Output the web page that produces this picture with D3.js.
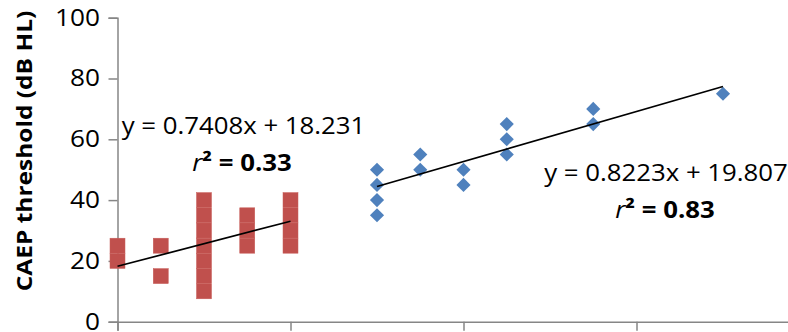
<!DOCTYPE html>
<html><head><meta charset="utf-8">
<script src="https://cdn.jsdelivr.net/npm/d3@7"></script>
<style>body{margin:0;background:#fff}svg{display:block}</style>
</head><body>
<svg id="c" width="788" height="332"></svg>
<script>
// Data
const redX = [0,0,5,5,10,10,10,10,10,10,10,15,15,15,20,20,20,20];
const redY = [20,25,25,15,40,35,30,25,20,15,10,35,30,25,40,35,30,25];
const blueX = [30,30,30,30,35,35,40,40,45,45,45,55,55,70];
const blueY = [50,45,40,35,55,50,50,45,65,60,55,70,65,75];
const yTicks = [0,20,40,60,80,100];
const xTicks = [0,20,40,60,80];
const redFit = {slope:0.7408, intercept:18.231, x0:0, x1:20, eq:"y = 0.7408x + 18.231", r2:"0.33"};
const blueFit = {slope:0.8223, intercept:19.807, x0:30, x1:70, eq:"y = 0.8223x + 19.807", r2:"0.83"};
const yTitle = "CAEP threshold (dB HL)";

const svg = d3.select("#c");
const x = d3.scaleLinear().domain([0,80]).range([117.5,809.5]);
const y = d3.scaleLinear().domain([0,100]).range([321.7,17.7]);
const axisColor = "#868686";
const font = "'Open Sans', sans-serif";
const sx = 1.14;
const sxEq = 1.075;

// Y axis
const ya = svg.append("g").attr("transform","translate(117.5,0)")
  .call(d3.axisLeft(y).tickValues(yTicks).tickSize(9).tickFormat(""));
ya.select(".domain").attr("stroke",axisColor).attr("stroke-width",1.5);
ya.selectAll(".tick line").attr("stroke",axisColor).attr("stroke-width",1.5);
svg.append("g").selectAll("text").data(yTicks).join("text")
  .attr("transform",d=>`translate(100,${y(d)}) scale(${sx},1)`)
  .attr("text-anchor","end").attr("dy","0.34em")
  .attr("font-family",font).attr("font-size",23).attr("fill","#000")
  .text(d=>d);

// X axis
const xa = svg.append("g").attr("transform","translate(0,321.7)")
  .call(d3.axisBottom(x).tickValues(xTicks).tickSize(9).tickFormat(""));
xa.select(".domain").attr("stroke",axisColor).attr("stroke-width",1.5);
xa.selectAll(".tick line").attr("stroke",axisColor).attr("stroke-width",1.5);

// Y title
svg.append("text").attr("transform",`translate(32,151) rotate(-90) scale(${sx},1)`)
  .attr("text-anchor","middle").attr("font-family",font).attr("font-weight","bold")
  .attr("font-size",21.5).text(yTitle);

// Red squares
const sq = 15;
svg.append("g").selectAll("rect").data(redX.map((v,i)=>[v,redY[i]])).join("rect")
  .attr("x",d=>x(d[0])-sq/2).attr("y",d=>y(d[1])-sq/2)
  .attr("width",sq).attr("height",sq)
  .attr("fill","#C0504D").attr("stroke","#C85C59").attr("stroke-width",0.5);

// Blue diamonds
const dia = d3.symbol(d3.symbolSquare).size(100);
svg.append("g").selectAll("path").data(blueX.map((v,i)=>[v,blueY[i]])).join("path")
  .attr("d",dia)
  .attr("transform",d=>`translate(${x(d[0])},${y(d[1])}) rotate(45)`)
  .attr("fill","#4F81BD");

// Trend lines
[redFit, blueFit].forEach(f=>{
  svg.append("line")
    .attr("x1",x(f.x0)).attr("y1",y(f.slope*f.x0+f.intercept))
    .attr("x2",x(f.x1)).attr("y2",y(f.slope*f.x1+f.intercept))
    .attr("stroke","#000").attr("stroke-width",1.7);
});

// Equation labels
function label(f, cx, by1, cx2, by2){
  svg.append("text").attr("transform",`translate(${cx},${by1}) scale(${sxEq},1)`)
    .attr("text-anchor","middle")
    .attr("font-family",font).attr("font-size",24).text(f.eq);
  const t = svg.append("text").attr("transform",`translate(${cx2},${by2}) scale(${sxEq},1)`)
    .attr("text-anchor","middle")
    .attr("font-family",font).attr("font-size",24);
  t.append("tspan").attr("font-style","italic").text("r");
  t.append("tspan").attr("font-weight","bold").text("\u00B2 = " + f.r2);
}
label(redFit, 243.5, 134, 242, 171);
label(blueFit, 666, 181, 665, 218);
</script>
</body></html>
